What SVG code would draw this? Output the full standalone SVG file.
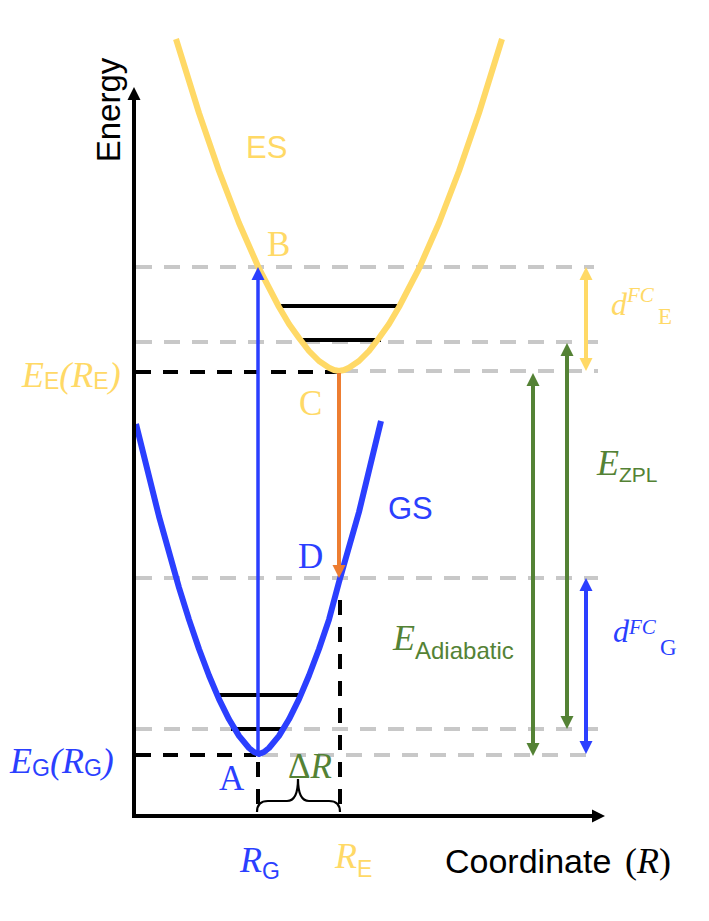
<svg xmlns="http://www.w3.org/2000/svg" width="709" height="921" viewBox="0 0 709 921">
<style>
.s{font-family:"Liberation Sans",Arial,sans-serif}
.mi{font-family:"Liberation Serif","DejaVu Serif",serif;font-style:italic}
.rm{font-family:"Liberation Serif","DejaVu Serif",serif}
.gd{stroke:#C8C8C8;stroke-width:4;stroke-dasharray:16 12;fill:none}
.bd{stroke:#000;stroke-width:4;stroke-dasharray:15 12;fill:none}
.lv{stroke:#000;stroke-width:4}
.y{fill:#FFD966}
.b{fill:#2B3FFF}
.g{fill:#548235}
</style>
<defs>
<marker id="mk" markerUnits="userSpaceOnUse" markerWidth="14" markerHeight="13" refX="0" refY="6.5" orient="auto-start-reverse" overflow="visible"><path d="M0,0 L13,6.5 L0,13 z" fill="#000"/></marker>
<marker id="mg" markerUnits="userSpaceOnUse" markerWidth="14" markerHeight="13" refX="0" refY="6.5" orient="auto-start-reverse" overflow="visible"><path d="M0,0 L13,6.5 L0,13 z" fill="#548235"/></marker>
<marker id="my" markerUnits="userSpaceOnUse" markerWidth="14" markerHeight="13" refX="0" refY="6.5" orient="auto-start-reverse" overflow="visible"><path d="M0,0 L13,6.5 L0,13 z" fill="#FFD966"/></marker>
<marker id="mb" markerUnits="userSpaceOnUse" markerWidth="14" markerHeight="13" refX="0" refY="6.5" orient="auto-start-reverse" overflow="visible"><path d="M0,0 L13,6.5 L0,13 z" fill="#2B3FFF"/></marker>
<marker id="mo" markerUnits="userSpaceOnUse" markerWidth="14" markerHeight="13" refX="0" refY="6.5" orient="auto-start-reverse" overflow="visible"><path d="M0,0 L13,6.5 L0,13 z" fill="#ED7D31"/></marker>
</defs>

<g id="gridlines">
<line class="gd" x1="136" y1="267" x2="594" y2="267"/>
<line class="gd" x1="136" y1="342" x2="598" y2="342"/>
<line class="gd" x1="342" y1="371" x2="598" y2="371"/>
<line class="gd" x1="136" y1="578" x2="598" y2="578"/>
<line class="gd" x1="136" y1="729" x2="598" y2="729"/>
<line class="gd" x1="262" y1="755" x2="598" y2="755"/>
<line class="bd" x1="136" y1="372" x2="340" y2="372"/>
<line class="bd" x1="136" y1="755" x2="256" y2="755"/>
<line class="bd" x1="258" y1="762" x2="258" y2="816"/>
<line class="bd" x1="340" y1="600" x2="340" y2="816"/>
</g>

<g id="levels">
<line class="lv" x1="280" y1="306" x2="400" y2="306"/>
<line class="lv" x1="301" y1="340" x2="381" y2="340"/>
<line class="lv" x1="217" y1="695" x2="301" y2="695"/>
<line class="lv" x1="231" y1="729" x2="285" y2="729"/>
</g>

<g id="curves" fill="none" stroke-width="6" stroke-linejoin="round" stroke-linecap="butt">
<polyline id="ES" stroke="#FFD966" points="176,39 199,113 219,171 239,223 259,268.5 279,307 289,324 299,338 309,351 319,361 329,367.7 334,370 339,371 344,370 349,367.7 359,361 369,351 379,338 389,324 399,307 419,268.5 439,223 459,171 479,113 502,39"/>
<polyline id="GS" stroke="#2B3FFF" points="136,424 159,516.4 179,587.6 189,619.6 199,649 209,675.5 219,699.1 229,719.3 239,735.9 249,748 254,752 259,754 264,752 269,748 279,735.9 289,719.3 299,699.1 309,675.5 319,649 329,619.6 339,582 359,512 381,421"/>
</g>

<g id="axes" stroke="#000" stroke-width="4">
<line x1="134" y1="818" x2="134" y2="100" marker-end="url(#mk)"/>
<line x1="132" y1="816" x2="592" y2="816" marker-end="url(#mk)"/>
</g>

<g id="connectors" stroke-width="4">
<line x1="258" y1="755" x2="258" y2="280" stroke="#2B3FFF" stroke-width="3.5" marker-end="url(#mb)"/>
<line x1="339" y1="373" x2="339" y2="565" stroke="#ED7D31" marker-end="url(#mo)"/>
<line x1="533" y1="386" x2="533" y2="743" stroke="#548235" marker-start="url(#mg)" marker-end="url(#mg)"/>
<line x1="567" y1="356" x2="567" y2="716" stroke="#548235" marker-start="url(#mg)" marker-end="url(#mg)"/>
<line x1="586" y1="280" x2="586" y2="358" stroke="#FFD966" marker-start="url(#my)" marker-end="url(#my)"/>
<line x1="586" y1="591" x2="586" y2="741" stroke="#2B3FFF" marker-start="url(#mb)" marker-end="url(#mb)"/>
<path d="M257,812 Q257,801 268,801 L287,801 Q298,801 298,779 Q298,801 309,801 L329,801 Q340,801 340,812" fill="none" stroke="#000" stroke-width="2.2"/>
</g>

<g id="labels">
<text class="s" transform="translate(120,110) rotate(-90)" text-anchor="middle" font-size="33" fill="#000">Energy</text>
<text class="s y" x="246" y="158" font-size="31">ES</text>
<text class="s b" x="388" y="519" font-size="31">GS</text>
<text class="rm y" x="267" y="256" font-size="35">B</text>
<text class="rm y" x="299" y="415" font-size="35">C</text>
<text class="rm b" x="298" y="568" font-size="35">D</text>
<text class="rm b" x="219" y="790" font-size="35">A</text>
<text class="y" x="22" y="387"><tspan class="mi" font-size="36">E</tspan><tspan class="s" font-size="23" dy="2">E</tspan><tspan class="mi" font-size="36" dy="-2">(R</tspan><tspan class="s" font-size="23" dy="2">E</tspan><tspan class="mi" font-size="36" dy="-2">)</tspan></text>
<text class="b" x="10" y="773"><tspan class="mi" font-size="36">E</tspan><tspan class="s" font-size="23" dy="3">G</tspan><tspan class="mi" font-size="36" dy="-3">(R</tspan><tspan class="s" font-size="23" dy="3">G</tspan><tspan class="mi" font-size="36" dy="-3">)</tspan></text>
<text class="g" x="288" y="778" font-size="35"><tspan class="rm">Δ</tspan><tspan class="mi">R</tspan></text>
<text class="b" x="240" y="872"><tspan class="mi" font-size="36">R</tspan><tspan class="s" font-size="23" dy="7">G</tspan></text>
<text class="y" x="335" y="868"><tspan class="mi" font-size="36">R</tspan><tspan class="s" font-size="23" dy="9">E</tspan></text>
<text x="445" y="873" fill="#000"><tspan class="s" font-size="34">Coordinate</tspan><tspan class="rm" font-size="36" x="625">(</tspan><tspan class="mi" font-size="36">R</tspan><tspan class="rm" font-size="36">)</tspan></text>
<text class="g" x="597" y="475"><tspan class="mi" font-size="36">E</tspan><tspan class="s" font-size="21" dy="7">ZPL</tspan></text>
<text class="g" x="393" y="650"><tspan class="mi" font-size="36">E</tspan><tspan class="s" font-size="24" dy="9">Adiabatic</tspan></text>
<text class="y" x="611" y="315"><tspan class="mi" font-size="32">d</tspan><tspan class="mi" font-size="21" dy="-13">FC</tspan><tspan class="rm" font-size="23" dy="22" x="658">E</tspan></text>
<text class="b" x="613" y="642"><tspan class="mi" font-size="32">d</tspan><tspan class="mi" font-size="21" dy="-8">FC</tspan><tspan class="rm" font-size="23" dy="21" x="660">G</tspan></text>
</g>
</svg>
